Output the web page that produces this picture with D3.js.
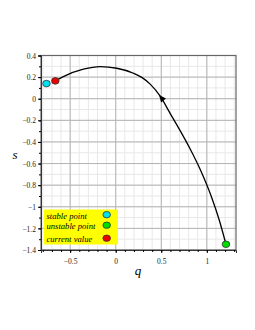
<!DOCTYPE html>
<html><head><meta charset="utf-8">
<script src="https://cdn.jsdelivr.net/npm/d3@7"></script>
<style>body{margin:0;background:#fff}svg{display:block}</style>
</head><body>
<script>
const curveQ = [-0.663, -0.575, -0.355, -0.171, 0.012, 0.195, 0.29, 0.378, 0.488, 0.6, 0.71, 0.82, 0.93, 1.06, 1.135, 1.21];
const curveS = [0.165, 0.205, 0.273, 0.297, 0.282, 0.236, 0.195, 0.135, 0.024, -0.14, -0.30, -0.47, -0.66, -0.93, -1.12, -1.347];
const pointNames = ["stable point", "unstable point", "current value"];
const pointQ = [-0.76, 1.21, -0.663];
const pointS = [0.14, -1.347, 0.165];
const pointColors = ["#00e0f0", "#00dd00", "#ee0000"];
const xTicks = [-0.5, 0, 0.5, 1];
const yTicks = [0.4, 0.2, 0, -0.2, -0.4, -0.6, -0.8, -1, -1.2, -1.4];
const arrowQ = 0.49, arrowS = 0.02;

const W = 255, H = 330;
const L = 41, R = 236, T = 55.5, B = 250;
const svg = d3.select("body").append("svg").attr("width", W).attr("height", H);
const x = d3.scaleLinear().domain([-0.82, 1.32]).range([L, R]);
const y = d3.scaleLinear().domain([-1.4, 0.4]).range([B, T]);

// grid
const g = svg.append("g");
const minorX = d3.range(-0.8, 1.32, 0.1).map(v => +v.toFixed(2));
const minorY = d3.range(-1.4, 0.41, 0.1).map(v => +v.toFixed(2));
g.selectAll(".mx").data(minorX).join("line")
  .attr("x1", d => x(d)).attr("x2", d => x(d)).attr("y1", T).attr("y2", B)
  .attr("stroke", "#e8e8e8").attr("stroke-width", 1);
g.selectAll(".my").data(minorY).join("line")
  .attr("y1", d => y(d)).attr("y2", d => y(d)).attr("x1", L).attr("x2", R)
  .attr("stroke", "#e8e8e8").attr("stroke-width", 1);
g.selectAll(".Mx").data(xTicks).join("line")
  .attr("x1", d => x(d)).attr("x2", d => x(d)).attr("y1", T).attr("y2", B)
  .attr("stroke", "#b4b4b4").attr("stroke-width", 1);
g.selectAll(".My").data(yTicks).join("line")
  .attr("y1", d => y(d)).attr("y2", d => y(d)).attr("x1", L).attr("x2", R)
  .attr("stroke", "#b4b4b4").attr("stroke-width", 1);

// frame
svg.append("rect").attr("x", L).attr("y", T).attr("width", R - L).attr("height", B - T)
  .attr("fill", "none").attr("stroke", "#666").attr("stroke-width", 1.2);

// axes
const fmt = d => d === 0 ? "0" : d3.format("")(d).replace("-", "−");
const xAxis = svg.append("g").attr("transform", `translate(0,${B})`)
  .call(d3.axisBottom(x).tickValues(xTicks).tickSize(3).tickFormat(fmt));
svg.append("g").attr("transform", `translate(0,${B})`)
  .call(d3.axisBottom(x).tickValues(minorX).tickSize(2).tickFormat(""))
  .call(a => a.select(".domain").remove());
const yAxis = svg.append("g").attr("transform", `translate(${L},0)`)
  .call(d3.axisLeft(y).tickValues(yTicks).tickSize(3).tickFormat(fmt));
svg.append("g").attr("transform", `translate(${L},0)`)
  .call(d3.axisLeft(y).tickValues(minorY).tickSize(2).tickFormat(""))
  .call(a => a.select(".domain").remove());
[xAxis, yAxis].forEach(a => {
  a.selectAll("text").attr("font-family", "Liberation Serif, serif").attr("font-size", 7.5).attr("fill", "#222");
  a.select(".domain").attr("stroke", "#333");
});
xAxis.selectAll("text").attr("dy", "1.1em");
yAxis.selectAll("text").attr("dy", "0.35em").attr("x", -5);

// curve
const pts = curveQ.map((q, i) => [x(q), y(curveS[i])]);
svg.append("path").attr("d", d3.line().curve(d3.curveMonotoneX)(pts))
  .attr("fill", "none").attr("stroke", "#000").attr("stroke-width", 1.3);

// arrow pointing up-left along the curve
const ax = x(arrowQ), ay = y(arrowS);
const ang = Math.atan2(y(0.135) - ay, x(0.378) - ax) * 180 / Math.PI;
svg.append("path").attr("d", "M0,0 L-7,-3.2 L-7,3.2 Z")
  .attr("transform", `translate(${ax},${ay}) rotate(${ang}) translate(2,0)`)
  .attr("fill", "#000");

// points
svg.selectAll(".pt").data(pointQ).join("ellipse")
  .attr("cx", (d) => x(d)).attr("cy", (d, i) => y(pointS[i]))
  .attr("rx", 3.8).attr("ry", 3.3)
  .attr("fill", (d, i) => pointColors[i]).attr("stroke", "#333").attr("stroke-width", 0.8);

// legend
const lg = svg.append("g");
lg.append("rect").attr("x", 44).attr("y", 209.5).attr("width", 74).attr("height", 35).attr("fill", "#ffff00");
const ly = [215.5, 226, 239];
lg.selectAll("text").data(pointNames).join("text")
  .attr("x", 46.5).attr("y", (d, i) => ly[i]).attr("dy", "0.35em")
  .attr("font-family", "Liberation Serif, serif").attr("font-style", "italic")
  .attr("font-size", 8.6).attr("fill", "#000").text(d => d);
lg.selectAll("ellipse").data(pointNames).join("ellipse")
  .attr("cx", 106.7).attr("cy", (d, i) => ly[i] - 0.8)
  .attr("rx", 3.8).attr("ry", 3.2).attr("fill", (d, i) => pointColors[i])
  .attr("stroke", "#333").attr("stroke-width", 0.8);

// axis titles
svg.append("text").attr("x", 15).attr("y", 159).attr("text-anchor", "middle")
  .attr("font-family", "Liberation Serif, serif").attr("font-style", "italic").attr("font-size", 13).text("s");
svg.append("text").attr("x", 138).attr("y", 275).attr("text-anchor", "middle")
  .attr("font-family", "Liberation Serif, serif").attr("font-style", "italic").attr("font-size", 13).text("q");
</script>
</body></html>
